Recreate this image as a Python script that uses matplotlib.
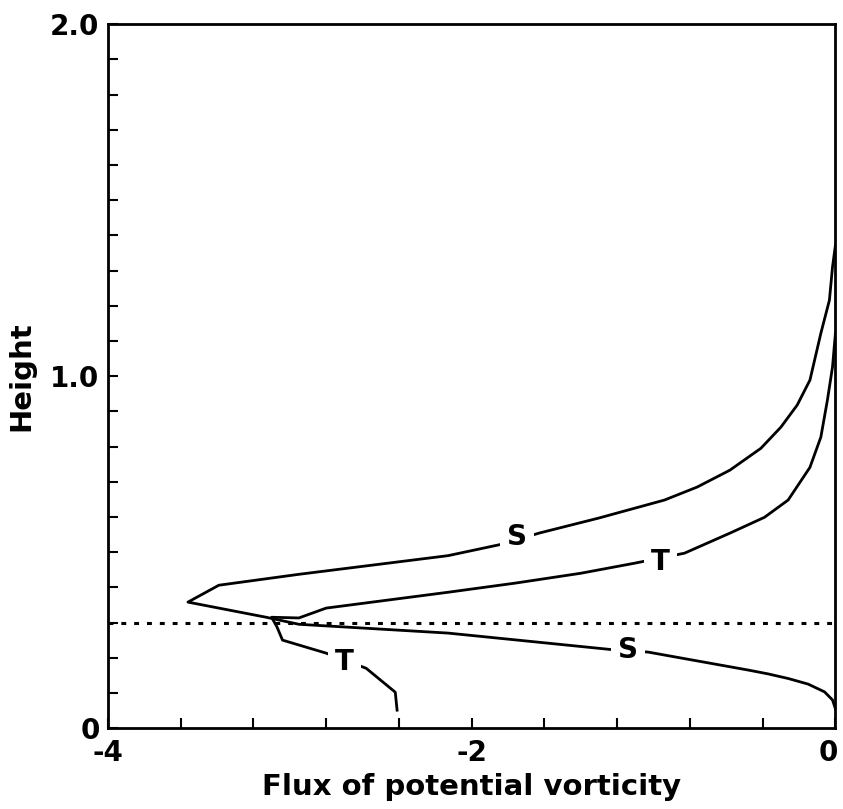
import numpy as np
import matplotlib; matplotlib.use("Agg")
import matplotlib.pyplot as plt
from matplotlib.transforms import ScaledTranslation

plt.rcParams["font.family"] = ["DejaVu Sans"]
plt.rcParams["font.weight"] = "bold"

# --- S curve: lower branch (from x=0 leftwards to the tip), then upper branch ---
s_lower_x = [0.0, -0.016, -0.06, -0.15, -0.26, -0.37, -0.48, -1.03, -1.21, -2.13, -2.95, -3.13, -3.56]
s_lower_y = [0.055, 0.080, 0.103, 0.125, 0.141, 0.154, 0.165, 0.216, 0.222, 0.270, 0.295, 0.315, 0.358]
s_upper_x = [-3.56, -3.39, -2.95, -2.13, -1.83, -1.63, -1.30, -0.94, -0.76, -0.58,
             -0.41, -0.30, -0.21, -0.14, -0.08, -0.033, -0.016, 0.0]
s_upper_y = [0.358, 0.406, 0.437, 0.490, 0.523, 0.554, 0.597, 0.648, 0.685, 0.733,
             0.795, 0.855, 0.918, 0.989, 1.122, 1.216, 1.310, 1.372]

# --- T curve: lower piece (below interface), then upper branch ---
t_lower_x = [-2.41, -2.42, -2.58, -2.80, -3.04, -3.07, -3.10]
t_lower_y = [0.051, 0.102, 0.170, 0.213, 0.250, 0.287, 0.315]
t_upper_x = [-2.95, -2.80, -2.13, -1.76, -1.40, -1.10, -0.83, -0.58, -0.39, -0.26,
             -0.14, -0.08, -0.044, -0.016, 0.0]
t_upper_y = [0.313, 0.341, 0.386, 0.412, 0.440, 0.469, 0.497, 0.554, 0.599, 0.648,
             0.741, 0.827, 0.932, 1.026, 1.122]

interface_y = 0.3

labels = ["S", "T", "S", "T"]
label_x = [-1.75, -0.96, -1.14, -2.70]
label_y = [0.543, 0.472, 0.222, 0.188]

fig = plt.figure(figsize=(8.43, 8.09), dpi=100)
ax = fig.add_axes([0.128, 0.100, 0.863, 0.870])

lw = 2.0
ax.plot(s_lower_x + s_upper_x[1:], s_lower_y + s_upper_y[1:], color="black", lw=lw)
ax.plot(t_lower_x + t_upper_x, t_lower_y + t_upper_y, color="black", lw=lw)
ax.axhline(interface_y, color="black", lw=2.2, linestyle=(0, (1.6, 2.6)))

for lab, x, y in zip(labels, label_x, label_y):
    ax.text(x, y, lab, fontsize=20, fontweight="bold", ha="center", va="center",
            bbox=dict(boxstyle="square,pad=0.25", facecolor="white", edgecolor="none"), zorder=5)

ax.set_xlim(-4, 0)
ax.set_ylim(0, 2.0)
ax.set_xticks([-4, -2, 0])
ax.set_xticklabels(["-4", "-2", "0"])
ax.set_xticks(np.arange(-4, 0.01, 0.4), minor=True)
ax.set_yticks([0, 1.0, 2.0])
ax.set_yticklabels(["0", "1.0", "2.0"])
ax.set_yticks(np.arange(0, 2.01, 0.1), minor=True)
ax.tick_params(which="both", direction="in", width=1.5, length=7)
ax.tick_params(axis="x", which="major", pad=8, labelsize=20)
ax.tick_params(axis="y", which="major", pad=6, labelsize=20)
for sp in ax.spines.values():
    sp.set_linewidth(2.0)

# nudge the right-most "0" a little left so it stays inside the figure
last = ax.get_xticklabels()[-1]
last.set_transform(last.get_transform() + ScaledTranslation(-5 / 72, 0, fig.dpi_scale_trans))

ax.set_xlabel("Flux of potential vorticity", fontsize=21, fontweight="bold", labelpad=4)
ax.set_ylabel("Height", fontsize=21, fontweight="bold", labelpad=11)

fig.savefig("out.png", dpi=100, facecolor="white")
